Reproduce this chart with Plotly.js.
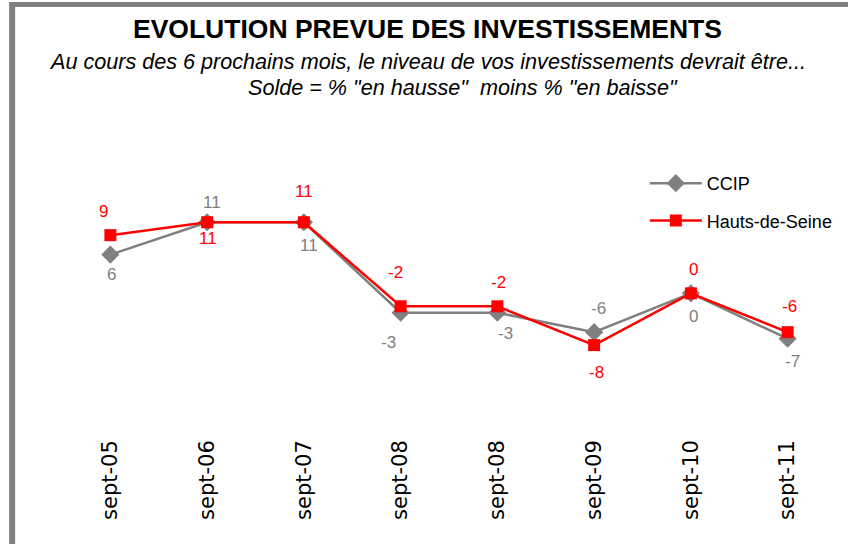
<!DOCTYPE html>
<html>
<head>
<meta charset="utf-8">
<script src="https://cdn.plot.ly/plotly-3.0.1.min.js"></script>
<style>html,body{margin:0;padding:0;background:#fff;}#chart{width:848px;height:544px;}</style>
</head>
<body>
<div id="chart"></div>
<script>
// ---- data ----
const categories = ['sept-05','sept-06','sept-07','sept-08','sept-08','sept-09','sept-10','sept-11'];
const ccip = [6, 11, 11, -3, -3, -6, 0, -7];
const hautsDeSeine = [9, 11, 11, -2, -2, -8, 0, -6];

// ---- label offsets (px) ----
const ccipLabelDx = [1, 5, 5, -12, 8, 4, 3, 5];
const ccipLabelDy = [20, -20, 23, 30, 21, -24, 23, 23];
const hdsLabelDx = [-7, 1, 0, -5, 1, 2, 3, 2];
const hdsLabelDy = [-24, 16, -31, -34, -24, 27, -24, -26];

const GRAY = '#808080';
const RED = '#ff0000';
const FONT = 'Liberation Sans, Arial, sans-serif';

const xs = categories.map((_, i) => i);

const traces = [
  {
    x: xs, y: ccip, name: 'CCIP', type: 'scatter', mode: 'lines+markers',
    line: {color: GRAY, width: 2.5},
    marker: {symbol: 'diamond', size: 14, color: GRAY},
    legendgroup: 'a'
  },
  {
    x: xs, y: hautsDeSeine, name: 'Hauts-de-Seine', type: 'scatter', mode: 'lines+markers',
    line: {color: RED, width: 2.5},
    marker: {symbol: 'square', size: 12, color: RED},
    legendgroup: 'b'
  }
];

const annotations = [];
ccip.forEach((v, i) => annotations.push({
  x: i, y: v, xref: 'x', yref: 'y', text: String(v), showarrow: false,
  xshift: ccipLabelDx[i], yshift: -ccipLabelDy[i],
  font: {family: FONT, size: 17, color: GRAY}
}));
hautsDeSeine.forEach((v, i) => annotations.push({
  x: i, y: v, xref: 'x', yref: 'y', text: String(v), showarrow: false,
  xshift: hdsLabelDx[i], yshift: -hdsLabelDy[i],
  font: {family: FONT, size: 17, color: RED}
}));

// subtitles (plot area: x 62..838, y 100..435)
annotations.push({
  xref: 'paper', yref: 'paper', x: (428.5 - 62) / 776, y: 1.1164, xanchor: 'center', yanchor: 'middle',
  text: '<i>Au cours des 6 prochains mois, le niveau de vos investissements devrait être...</i>',
  showarrow: false, font: {family: FONT, size: 21.6, color: '#000'}
});
annotations.push({
  xref: 'paper', yref: 'paper', x: (464 - 62) / 776, y: 1.0388, xanchor: 'center', yanchor: 'middle',
  text: '<i>Solde = % "en hausse"\u00a0\u00a0moins % "en baisse"</i>',
  showarrow: false, font: {family: FONT, size: 21.6, color: '#000'}
});

const layout = {
  width: 848, height: 544,
  paper_bgcolor: '#ffffff', plot_bgcolor: '#ffffff',
  margin: {l: 62, r: 10, t: 100, b: 109},
  title: {
    text: '<b>EVOLUTION PREVUE DES INVESTISSEMENTS</b>',
    font: {family: FONT, size: 26.5, color: '#000'},
    x: 0.5041, xanchor: 'center', xref: 'container',
    y: 1 - 29 / 544, yanchor: 'middle', yref: 'container'
  },
  xaxis: {
    range: [-0.5, 7.5], tickvals: xs, ticktext: categories, tickangle: -90,
    showgrid: false, zeroline: false, showline: false, ticks: '',
    tickfont: {family: 'DejaVu Sans, sans-serif', size: 21, color: '#000'},
    fixedrange: true
  },
  yaxis: {
    range: [-21.9, 29.9], showgrid: false, zeroline: false, showline: false,
    showticklabels: false, ticks: '', fixedrange: true
  },
  showlegend: true,
  legend: {
    x: 0.753, y: 0.806, xanchor: 'left', yanchor: 'top',
    font: {family: FONT, size: 18, color: '#000'},
    bgcolor: 'rgba(0,0,0,0)', itemwidth: 52, tracegroupgap: 11,
    traceorder: 'grouped'
  },
  annotations: annotations,
  shapes: [
    {type: 'rect', xref: 'paper', yref: 'paper', x0: (9 - 62) / 776, x1: (15 - 62) / 776, y0: -0.33, y1: 1.29254,
     fillcolor: GRAY, line: {width: 0}, layer: 'above'},
    {type: 'rect', xref: 'paper', yref: 'paper', x0: (9 - 62) / 776, x1: 1.02, y0: 1.27761, y1: 1.29254,
     fillcolor: GRAY, line: {width: 0}, layer: 'above'}
  ]
};

Plotly.newPlot('chart', traces, layout, {displayModeBar: false, staticPlot: true});
</script>
</body>
</html>
